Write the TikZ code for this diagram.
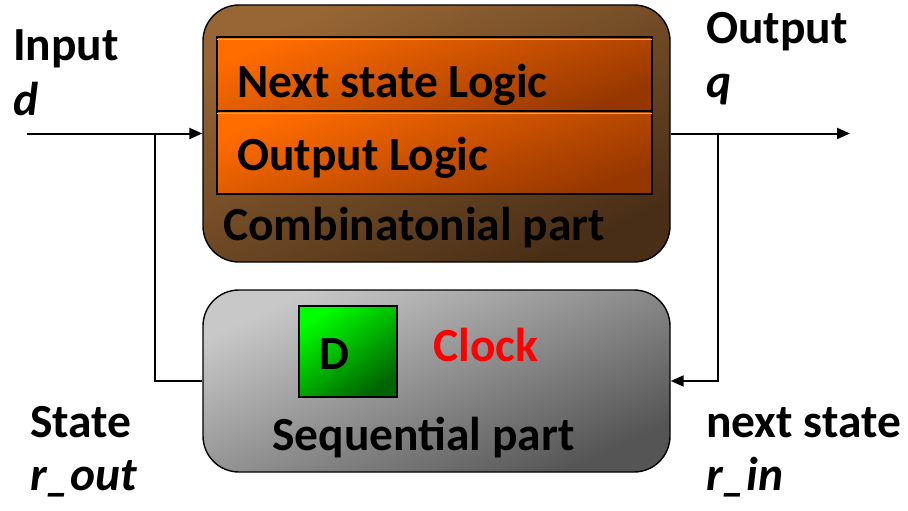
\documentclass[tikz,border=0pt]{standalone}
\usepackage{fontspec}
\setmainfont{Carlito}
\usetikzlibrary{arrows.meta}
\definecolor{brownA}{RGB}{152,102,52}
\definecolor{brownB}{RGB}{72,46,22}
\definecolor{oranA}{RGB}{255,108,0}
\definecolor{oranB}{RGB}{150,55,0}
\definecolor{oranL}{RGB}{245,170,120}
\definecolor{grayA}{RGB}{200,200,200}
\definecolor{grayB}{RGB}{85,85,85}
\definecolor{greenA}{RGB}{0,255,0}
\definecolor{greenB}{RGB}{0,100,0}
\begin{document}
\begin{tikzpicture}[x=1pt,y=-1pt,
  lbl/.style={anchor=base west,inner sep=0pt,font=\fontsize{47.5}{52}\selectfont\bfseries},
  lbli/.style={lbl,font=\fontsize{47.5}{52}\selectfont\bfseries\itshape},
  part/.style={draw=black,line width=1.4pt,rounded corners=36pt,minimum width=467pt,inner sep=0pt},
  logic/.style={draw=black,line width=1.3pt,minimum width=435pt,inner sep=0pt,shading=axis,top color=oranA,bottom color=oranB,shading angle=20},
  wire/.style={line width=2pt},
  arr/.style={wire,-{Triangle[length=13pt,width=11pt]}}]
\useasboundingbox (0,0) rectangle (908,511);
% combinational part
\node[part,minimum height=257pt,shading=axis,top color=brownA,bottom color=brownB,shading angle=25] (comb) at (436.5,133.5) {};
\node[logic,minimum height=74pt] (nsl) at (434.5,74) {};
\node[logic,minimum height=83pt] (ol) at (434.5,152.5) {};
\draw[oranL,line width=1.5pt] ([xshift=1pt,yshift=-3pt]nsl.north west) -- ([xshift=-1pt,yshift=-3pt]nsl.north east);
\draw[oranL,line width=1.5pt] ([xshift=1pt,yshift=-3pt]ol.north west) -- ([xshift=-1pt,yshift=-3pt]ol.north east);
\node[lbl] (nslt) at (237,97) {Next state Logic};
\node[lbl] (olt) at (237,170) {Output Logic};
\node[lbl] (combt) at (223,240) {Combinatonial part};
% sequential part
\node[part,minimum height=182pt,shading=axis,top color=grayA,bottom color=grayB,shading angle=25] (seq) at (436.5,381) {};
\node[draw=black,line width=1.3pt,minimum width=98pt,minimum height=91pt,inner sep=0pt,shading=axis,top color=greenA,bottom color=greenB,shading angle=35] (dff) at (348,351.5) {};
\node[lbl,anchor=center] (dt) at (334,354) {D};
\node[lbl,text=red] (clk) at (433,361) {Clock};
\node[lbl] (seqt) at (272,450) {Sequential part};
% labels
\node[lbl] (inl) at (13,60) {Input};
\node[lbli] (dl) at (13,115) {d};
\node[lbl] (outl) at (706,44) {Output};
\node[lbli] (ql) at (706,97) {q};
\node[lbl] (stl) at (30,437) {State};
\node[lbli] (rol) at (30,490) {r\_out};
\node[lbl] (nsl2) at (706,437) {next state};
\node[lbli] (ril) at (706,490) {r\_in};
% wires
\coordinate (inL) at (27,133.5);
\coordinate (fbL) at (155,133.5);
\coordinate (outR) at (850,133.5);
\coordinate (fbR) at (718,133.5);
\draw[arr] (inL) -- (comb.west);
\draw[wire] (fbL) |- (seq.west);
\draw[arr] (comb.east) -- (outR);
\draw[arr] (fbR) |- (seq.east);
\end{tikzpicture}
\end{document}
